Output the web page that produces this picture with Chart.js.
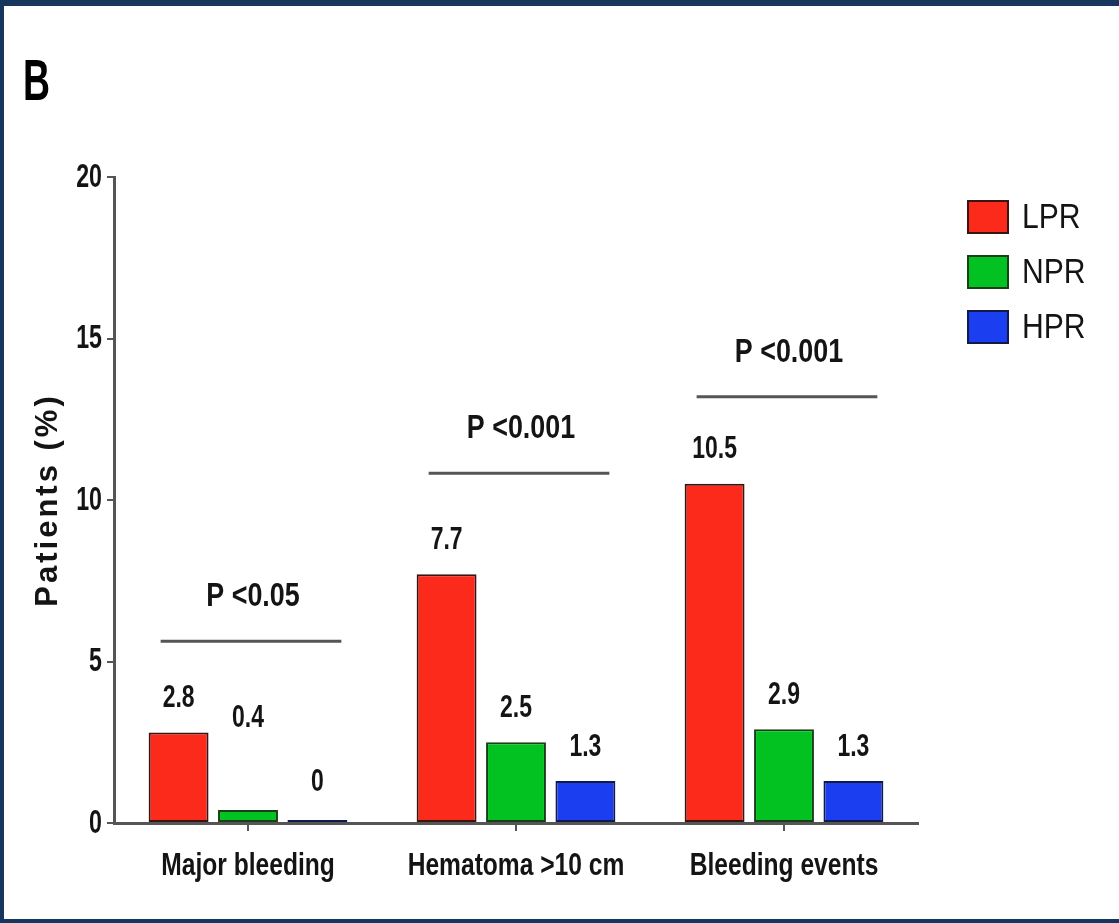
<!DOCTYPE html>
<html>
<head>
<meta charset="utf-8">
<script src="https://cdn.jsdelivr.net/npm/chart.js@4.4.1/dist/chart.umd.min.js"></script>
<style>
  html, body { margin: 0; padding: 0; width: 1119px; height: 923px; overflow: hidden; background: #17365d; }
  #panel { position: absolute; left: 4px; top: 6px; width: 1115px; height: 913px; background: #ffffff; }
  canvas { display: block; }
</style>
</head>
<body>
<div id="panel"><canvas id="chart" width="1115" height="913"></canvas></div>
<script>
// Bleeding outcomes by platelet reactivity group (% of patients)
const categories = ['Major bleeding', 'Hematoma >10 cm', 'Bleeding events'];
const seriesNames = ['LPR', 'NPR', 'HPR'];
const lprValues = [2.8, 7.7, 10.5];
const nprValues = [0.4, 2.5, 2.9];
const hprValues = [0, 1.3, 1.3];
const yTickValues = [0, 5, 10, 15, 20];
const pValueLabels = ['P <0.05', 'P <0.001', 'P <0.001'];
const pBracketLevels = [5.63, 10.83, 13.2];

const FAMILY = "'Liberation Sans', Arial, sans-serif";
const AXIS_GREY = '#555555';
const INK = '#141414';
const fills = ['#fb2a1b', '#02c221', '#1b3ff0'];
const edges = ['#3a1410', '#17401a', '#121a4a'];

// condensed text: the regular face squeezed horizontally
function narrowText(ctx, text, x, y, font, align, sx, sy) {
  ctx.save();
  ctx.translate(x, y);
  ctx.scale(sx, sy);
  ctx.font = font;
  ctx.textAlign = align;
  ctx.textBaseline = 'middle';
  ctx.fillStyle = INK;
  ctx.fillText(text, 0, 0);
  ctx.restore();
}

// Tick labels, data labels, significance brackets, legend, panel letter and y title
const decorations = {
  id: 'decorations',
  afterDraw(chart) {
    const ctx = chart.ctx;
    const xs = chart.scales.x;
    const ys = chart.scales.y;
    const metas = [0, 1, 2].map(i => chart.getDatasetMeta(i));
    const lift = { '1-0': 92, '2-0': 40 };

    ctx.save();

    // y tick labels
    yTickValues.forEach(v => {
      narrowText(ctx, String(v), ys.right - 12, ys.getPixelForValue(v) + 1,
        'bold 29px ' + FAMILY, 'right', 0.8, 1.12);
    });

    // category labels
    categories.forEach((c, i) => {
      narrowText(ctx, c, xs.getPixelForTick(i), 860,
        'bold 30px ' + FAMILY, 'center', 0.82, 1.05);
    });

    // value above each bar
    metas.forEach((meta, d) => {
      meta.data.forEach((bar, i) => {
        const v = chart.data.datasets[d].data[i];
        const off = lift[d + '-' + i] !== undefined ? lift[d + '-' + i] : 34;
        narrowText(ctx, String(v), bar.x, ys.getPixelForValue(v) - off,
          'bold 28px ' + FAMILY, 'center', 0.82, 1.1);
      });
    });

    // significance brackets
    categories.forEach((c, i) => {
      const first = metas[0].data[i];
      const last = metas[2].data[i];
      const x0 = first.x - first.width / 2 + 12;
      const x1 = last.x + last.width / 2 - 6;
      const ly = ys.getPixelForValue(pBracketLevels[i]);
      ctx.strokeStyle = AXIS_GREY;
      ctx.lineWidth = 3;
      ctx.beginPath();
      ctx.moveTo(x0, ly);
      ctx.lineTo(x1, ly);
      ctx.stroke();
      narrowText(ctx, pValueLabels[i], (x0 + x1) / 2 + 2, ly - 44,
        'bold 32px ' + FAMILY, 'center', 0.84, 1.02);
    });

    // legend
    seriesNames.forEach((name, i) => {
      const top = 194 + i * 55;
      ctx.fillStyle = fills[i];
      ctx.fillRect(963, top, 42, 34);
      ctx.strokeStyle = edges[i];
      ctx.lineWidth = 2;
      ctx.strokeRect(964, top + 1, 40, 32);
      narrowText(ctx, name, 1018, top + 18, '35px ' + FAMILY, 'left', 0.86, 1);
    });

    // y axis title
    ctx.save();
    ctx.translate(44, 494);
    ctx.rotate(-Math.PI / 2);
    ctx.font = 'bold 31px ' + FAMILY;
    ctx.letterSpacing = '3px';
    ctx.textAlign = 'center';
    ctx.textBaseline = 'middle';
    ctx.fillStyle = INK;
    ctx.fillText('Patients (%)', 0, 0);
    ctx.restore();

    // panel letter
    ctx.save();
    ctx.translate(19, 94);
    ctx.scale(0.85, 1.3);
    ctx.font = 'bold 44px ' + FAMILY;
    ctx.textAlign = 'left';
    ctx.textBaseline = 'alphabetic';
    ctx.fillStyle = '#000';
    ctx.fillText('B', 0, 0);
    ctx.restore();

    ctx.restore();
  }
};

const series = [lprValues, nprValues, hprValues];

new Chart(document.getElementById('chart'), {
  type: 'bar',
  data: {
    labels: categories,
    datasets: seriesNames.map((name, i) => ({
      label: name,
      data: series[i],
      backgroundColor: fills[i],
      borderColor: edges[i],
      borderWidth: 2,
      borderSkipped: false,
      minBarLength: i === 2 ? 3 : 0,
      categoryPercentage: 0.777,
      barPercentage: 0.863
    }))
  },
  options: {
    responsive: false,
    devicePixelRatio: 1,
    animation: false,
    layout: { padding: { top: 171, right: 201, bottom: 36, left: 0 } },
    plugins: { legend: { display: false }, tooltip: { enabled: false } },
    scales: {
      x: {
        grid: { display: true, drawOnChartArea: false, drawTicks: true, tickLength: 8, offset: false, color: AXIS_GREY, lineWidth: 2 },
        border: { display: true, color: AXIS_GREY, width: 3 },
        ticks: { display: false },
        afterFit(s) { s.height = 60; }
      },
      y: {
        min: 0,
        max: 20,
        afterBuildTicks(s) { s.ticks = yTickValues.map(v => ({ value: v })); },
        grid: { display: true, drawOnChartArea: false, drawTicks: true, tickLength: 7, color: AXIS_GREY, lineWidth: 2 },
        border: { display: true, color: AXIS_GREY, width: 3 },
        ticks: { display: false },
        afterFit(s) { s.width = 110; }
      }
    }
  },
  plugins: [decorations]
});
</script>
</body>
</html>
